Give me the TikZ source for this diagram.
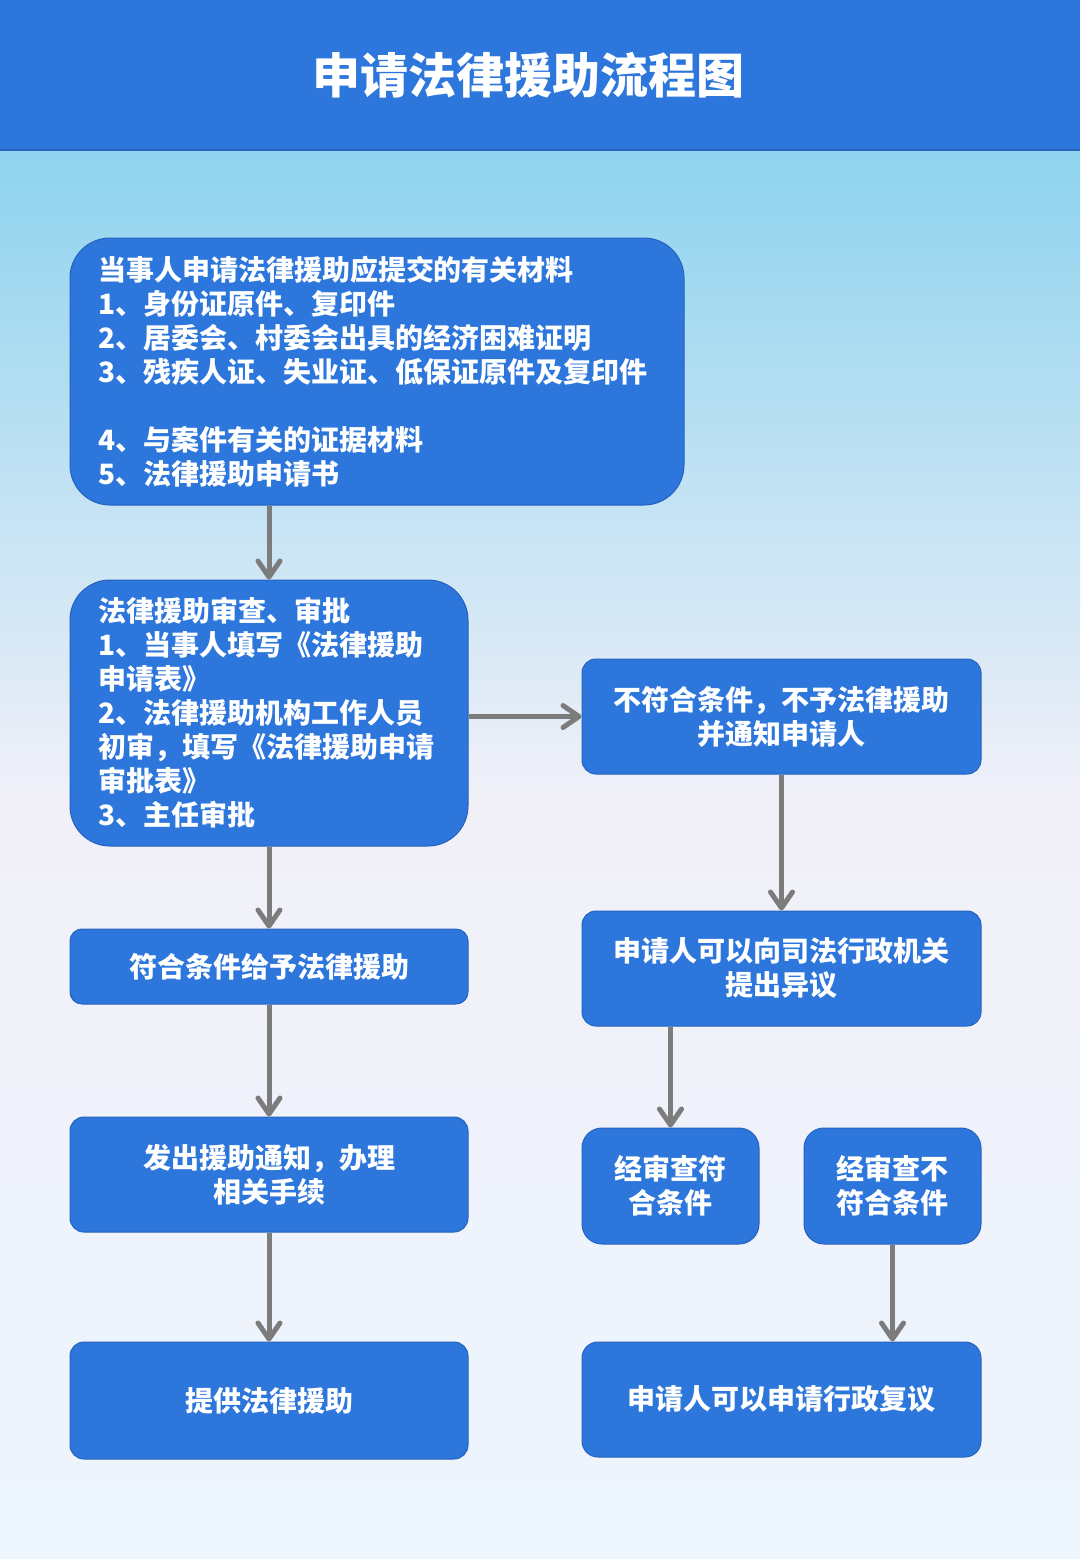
\documentclass[tikz,border=0pt]{standalone}
\usepackage{fontspec}
\usepackage{tikz}
\usetikzlibrary{arrows.meta,positioning}
\newfontfamily\cjk{Noto Sans CJK SC}
\definecolor{flowBlue}{RGB}{44,118,220}
\definecolor{flowBlueDark}{RGB}{38,98,190}
\definecolor{flowGray}{RGB}{124,124,124}
\definecolor{bgTop}{RGB}{142,211,238}
\definecolor{bgMid}{RGB}{241,240,248}
\definecolor{bgBottom}{RGB}{237,245,253}

\begin{document}
\begin{tikzpicture}[x=1pt,y=-1pt,
  box/.style={draw=flowBlueDark, line width=1pt, fill=flowBlue, text=white,
    rounded corners=14pt, align=center, inner sep=0pt,
    font={\cjk\bfseries\fontsize{28}{34}\selectfont}},
  listbox/.style={box, rounded corners=40pt, align=left, inner xsep=28pt},
  flow/.style={draw=flowGray, line width=5pt,
    -{Straight Barb[length=16pt,width=22pt,round]}}]
\useasboundingbox (0,0) rectangle (1080,1559);

% background and title bar
\shade[top color=bgTop, bottom color=bgMid] (0,150) rectangle (1080,800);
\shade[top color=bgMid, bottom color=bgBottom] (0,800) rectangle (1080,1559);
\fill[flowBlue] (0,0) rectangle (1080,150);
\draw[flowBlueDark, line width=1.5pt] (0,150)--(1080,150);
\node[text=white, font={\cjk\bfseries\fontsize{48}{56}\selectfont}] (title) at (528,75) {申请法律援助流程图};

% left column
\node[listbox, text width=558pt, minimum height=267pt] (materials) at (377,371.5)
  {当事人申请法律援助应提交的有关材料\\
   1、身份证原件、复印件\\
   2、居委会、村委会出具的经济困难证明\\
   3、残疾人证、失业证、低保证原件及复印件\\[34pt]
   4、与案件有关的证据材料\\
   5、法律援助申请书};
\node[listbox, text width=342pt, minimum height=266pt] (review) at (269,713)
  {法律援助审查、审批\\
   1、当事人填写《法律援助\\
   申请表》\\
   2、法律援助机构工作人员\\
   初审，填写《法律援助申请\\
   审批表》\\
   3、主任审批};
\node[box, rounded corners=12pt, minimum width=398pt, minimum height=75pt] (granted) at (269,966.5) {符合条件给予法律援助};
\node[box, minimum width=398pt, minimum height=115pt] (notice) at (269,1174.5) {发出援助通知，办理\\相关手续};
\node[box, minimum width=398pt, minimum height=117pt] (provide) at (269,1400.5) {提供法律援助};

% right column
\node[box, minimum width=399pt, minimum height=115pt] (refused) at (781.5,716.5) {不符合条件，不予法律援助\\并通知申请人};
\node[box, minimum width=399pt, minimum height=115pt] (objection) at (781.5,968.5) {申请人可以向司法行政机关\\提出异议};
\node[box, rounded corners=20pt, minimum width=177pt, minimum height=116pt] (passed) at (670.5,1186) {经审查符\\合条件};
\node[box, rounded corners=20pt, minimum width=177pt, minimum height=116pt] (failed) at (892.5,1186) {经审查不\\符合条件};
\node[box, rounded corners=16pt, minimum width=399pt, minimum height=115pt] (reconsider) at (781.5,1399.5) {申请人可以申请行政复议};

% connectors
\draw[flow] (review.north |- materials.south) -- (review.north);
\draw[flow] (review.south) -- (granted.north);
\draw[flow] (granted.south) -- (notice.north);
\draw[flow] (notice.south) -- (provide.north);
\draw[flow] (review.east |- refused.west) -- (refused.west);
\draw[flow] (refused.south) -- (objection.north);
\draw[flow] (objection.south -| passed.north) -- (passed.north);
\draw[flow] (failed.south) -- (reconsider.north -| failed.south);
\end{tikzpicture}
\end{document}
